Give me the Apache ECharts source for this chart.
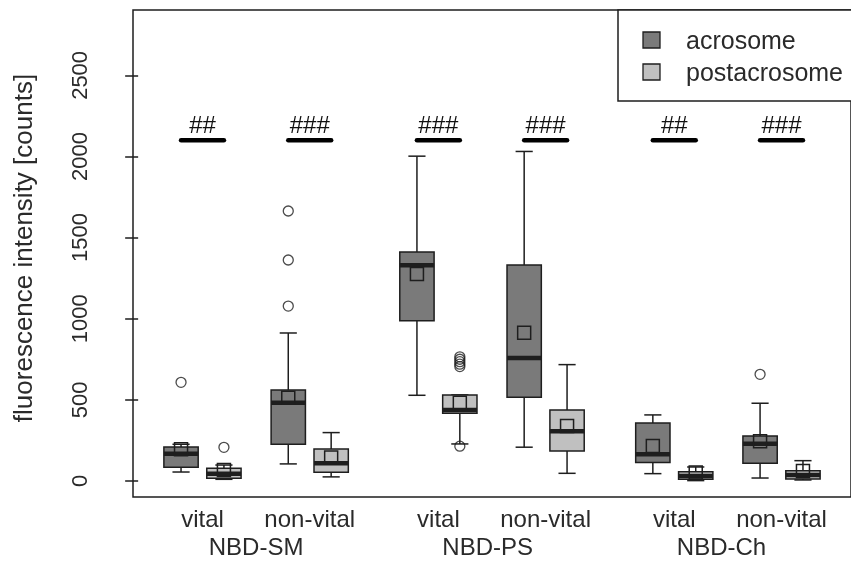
<!DOCTYPE html>
<html>
<head>
<meta charset="utf-8">
<script src="https://cdn.jsdelivr.net/npm/echarts@6/dist/echarts.min.js"></script>
<style>
  html, body { margin: 0; padding: 0; background: #fff; }
  #chart { width: 851px; height: 565px; }
</style>
</head>
<body>
<div id="chart"></div>
<script>
// Region names and category labels
const seriesNames = ['acrosome', 'postacrosome'];
const conditionLabels = ['vital', 'non-vital', 'vital', 'non-vital', 'vital', 'non-vital'];
const groupLabels = ['NBD-SM', 'NBD-PS', 'NBD-Ch'];
const yTicks = [0, 500, 1000, 1500, 2000, 2500];
const yTitle = 'fluorescence intensity [counts]';

// Box positions along the x scale
const acroPos = [1, 3.5, 6.5, 9, 12, 14.5];
const postPos = [2, 4.5, 7.5, 10, 13, 15.5];
const conditionPos = [1.5, 4, 7, 9.5, 12.5, 15];
const groupPos = [2.75, 8.15, 13.6];

// [lower whisker, Q1, median, Q3, upper whisker]
const acroStats = [
  [55, 84, 168, 209, 226],
  [105, 226, 482, 561, 912],
  [528, 988, 1329, 1411, 2002],
  [208, 516, 758, 1331, 2031],
  [45, 113, 164, 357, 407],
  [18, 109, 230, 277, 479]
];
const acroMeans = [195, 513, 1275, 914, 216, 245];
const acroOutliers = [[608], [1078, 1362, 1664], [], [], [], [657]];

const postStats = [
  [10, 17, 45, 78, 98],
  [25, 53, 109, 197, 298],
  [228, 417, 437, 530, 530],
  [47, 185, 306, 437, 717],
  [2, 10, 31, 57, 86],
  [6, 12, 37, 63, 125]
];
const postMeans = [68, 144, 482, 339, 52, 61];
const postOutliers = [[207], [], [214, 705, 720, 735, 750, 765], [], [], []];

// Significance marks between the two regions of each condition
const sigLevel = 2100;
const sigMarks = ['##', '###', '###', '###', '##', '###'];

const FONT = '"Liberation Sans", Arial, sans-serif';
const INK = '#1e1e1e';
const TEXT = '#2a2a2a';
const fillColors = ['#7a7a7a', '#c0c0c0'];

function boxRenderer(fill) {
  return function (params, api) {
    const x = api.value(0);
    const half = api.size([0.8, 0])[0] / 2;
    const cap = half / 2;
    const pt = i => api.coord([x, api.value(i)]);
    const lo = pt(1), q1 = pt(2), md = pt(3), q3 = pt(4), hi = pt(5), mn = pt(6);
    const cx = lo[0];
    const ln = (x1, y1, x2, y2, w) => ({
      type: 'line', shape: { x1, y1, x2, y2 }, style: { stroke: INK, lineWidth: w }
    });
    return {
      type: 'group',
      children: [
        ln(cx, lo[1], cx, q1[1], 1.5),
        ln(cx, q3[1], cx, hi[1], 1.5),
        ln(cx - cap, lo[1], cx + cap, lo[1], 1.5),
        ln(cx - cap, hi[1], cx + cap, hi[1], 1.5),
        {
          type: 'rect',
          shape: { x: cx - half, y: q3[1], width: 2 * half, height: q1[1] - q3[1] },
          style: { fill, stroke: INK, lineWidth: 1.5 }
        },
        ln(cx - half, md[1], cx + half, md[1], 4.5),
        {
          type: 'rect',
          shape: { x: cx - 6.5, y: mn[1] - 6.5, width: 13, height: 13 },
          style: { fill: 'none', stroke: INK, lineWidth: 1.5 }
        }
      ]
    };
  };
}

const acroData = acroPos.map((p, i) => [p, ...acroStats[i], acroMeans[i]]);
const postData = postPos.map((p, i) => [p, ...postStats[i], postMeans[i]]);

const outlierData = [];
acroOutliers.forEach((arr, i) => arr.forEach(v => outlierData.push([acroPos[i], v])));
postOutliers.forEach((arr, i) => arr.forEach(v => outlierData.push([postPos[i], v])));

const sigData = acroPos.map((p, i) => [p, postPos[i], sigLevel, i]);

const condData = conditionPos.map((p, i) => [p, i]);
const groupData = groupPos.map((p, i) => [p, i]);

const yMin = -99, yMax = 2903;

const chart = echarts.init(document.getElementById('chart'), null, { renderer: 'canvas' });

chart.setOption({
  backgroundColor: '#ffffff',
  animation: false,
  grid: {
    left: 133, top: 10, width: 725, height: 487,
    show: true, borderColor: INK, borderWidth: 1.5, backgroundColor: 'transparent'
  },
  xAxis: {
    type: 'value', min: -0.12, max: 16.62,
    axisLine: { show: false }, axisTick: { show: false },
    axisLabel: { show: false }, splitLine: { show: false }
  },
  yAxis: {
    type: 'value', min: yMin, max: yMax,
    axisLine: { show: false },
    splitLine: { show: false },
    axisTick: {
      show: true, inside: false, length: 13,
      customValues: yTicks,
      lineStyle: { color: INK, width: 1.5 }
    },
    axisLabel: {
      show: true, rotate: 90, margin: 41,
      customValues: yTicks,
      formatter: v => String(v),
      fontFamily: FONT, fontSize: 22, color: TEXT
    }
  },
  graphic: [
    {
      type: 'text', x: 25, y: 248, rotation: Math.PI / 2,
      style: {
        text: yTitle, fontFamily: FONT, fontSize: 26, fill: TEXT,
        align: 'center', verticalAlign: 'middle'
      }
    },
    {
      type: 'rect', shape: { x: 618, y: 10, width: 260, height: 91 },
      style: { fill: '#fff', stroke: INK, lineWidth: 1.5 }, z: 100
    },
    {
      type: 'rect', shape: { x: 643, y: 32, width: 17, height: 16 },
      style: { fill: fillColors[0], stroke: INK, lineWidth: 1.3 }, z: 101
    },
    {
      type: 'text', x: 686, y: 42,
      style: { text: seriesNames[0], fontFamily: FONT, fontSize: 25, fill: TEXT, verticalAlign: 'middle' }, z: 101
    },
    {
      type: 'rect', shape: { x: 643, y: 64, width: 17, height: 16 },
      style: { fill: fillColors[1], stroke: INK, lineWidth: 1.3 }, z: 101
    },
    {
      type: 'text', x: 686, y: 74,
      style: { text: seriesNames[1], fontFamily: FONT, fontSize: 25, fill: TEXT, verticalAlign: 'middle' }, z: 101
    }
  ],
  series: [
    {
      name: seriesNames[0], type: 'custom', data: acroData,
      renderItem: boxRenderer(fillColors[0]), z: 2
    },
    {
      name: seriesNames[1], type: 'custom', data: postData,
      renderItem: boxRenderer(fillColors[1]), z: 2
    },
    {
      name: 'outliers', type: 'scatter', data: outlierData,
      symbol: 'circle', symbolSize: 10,
      itemStyle: { color: 'transparent', borderColor: INK, borderWidth: 1.3 },
      z: 3
    },
    {
      name: 'significance', type: 'custom', data: sigData, z: 4,
      renderItem: function (params, api) {
        const a = api.coord([api.value(0), api.value(2)]);
        const b = api.coord([api.value(1), api.value(2)]);
        return {
          type: 'group',
          children: [
            {
              type: 'line', shape: { x1: a[0], y1: a[1], x2: b[0], y2: b[1] },
              style: { stroke: '#000', lineWidth: 4.5, lineCap: 'round' }
            },
            {
              type: 'text', x: (a[0] + b[0]) / 2, y: a[1] - 14,
              style: {
                text: sigMarks[api.value(3)], fontFamily: FONT, fontSize: 24,
                fill: '#111', align: 'center', verticalAlign: 'middle'
              }
            }
          ]
        };
      }
    },
    {
      name: 'conditions', type: 'custom', data: condData, clip: false, z: 4,
      renderItem: function (params, api) {
        const p = api.coord([api.value(0), yMin]);
        return {
          type: 'text', x: p[0], y: p[1] + 23,
          style: {
            text: conditionLabels[api.value(1)], fontFamily: FONT, fontSize: 24,
            fill: TEXT, align: 'center', verticalAlign: 'middle'
          }
        };
      }
    },
    {
      name: 'groups', type: 'custom', data: groupData, clip: false, z: 4,
      renderItem: function (params, api) {
        const p = api.coord([api.value(0), yMin]);
        return {
          type: 'text', x: p[0], y: p[1] + 51,
          style: {
            text: groupLabels[api.value(1)], fontFamily: FONT, fontSize: 24,
            fill: TEXT, align: 'center', verticalAlign: 'middle'
          }
        };
      }
    }
  ]
});
</script>
</body>
</html>
